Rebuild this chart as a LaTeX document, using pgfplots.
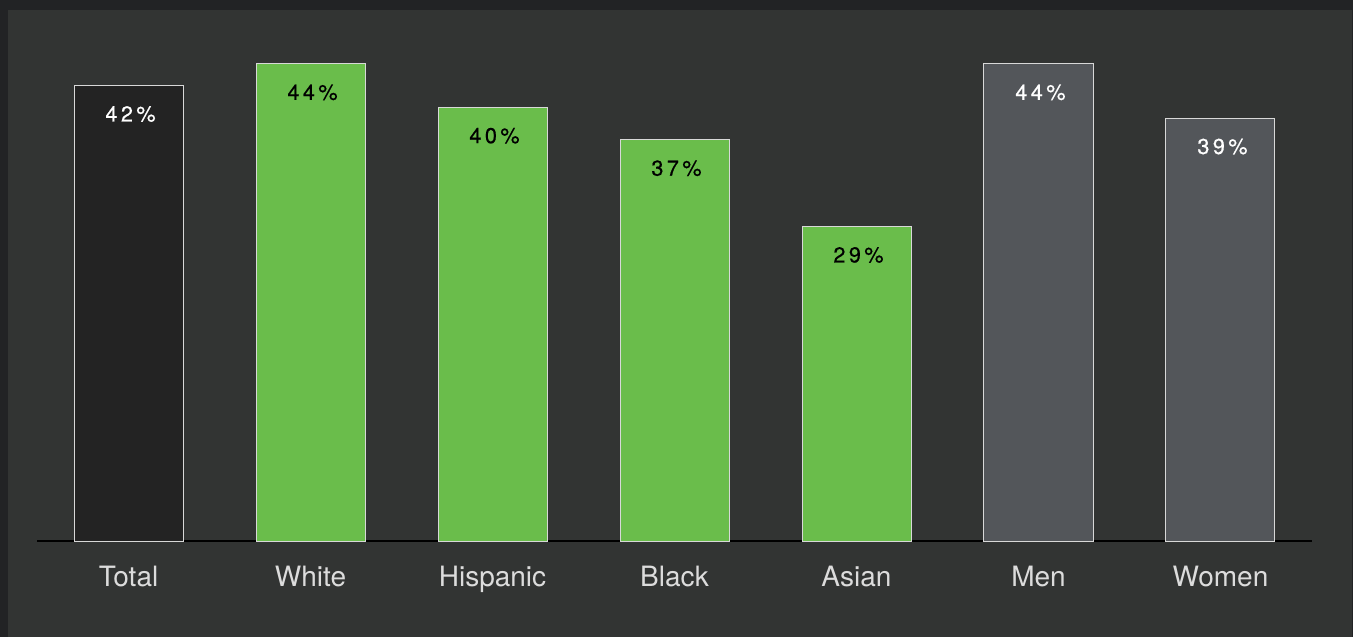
\documentclass[border=0pt]{standalone}
\usepackage{fontspec}
\setmainfont{TeX Gyre Heros}
\newfontfamily\spaced[LetterSpace=16,FakeBold=0.6]{TeX Gyre Heros}
\usepackage{pgfplots}
\pgfplotsset{compat=1.18}
\definecolor{outerbg}{HTML}{222325}
\definecolor{innerbg}{HTML}{323433}
\definecolor{totalfill}{HTML}{232323}
\definecolor{greenfill}{HTML}{6ABD4B}
\definecolor{greyfill}{HTML}{53565A}
\definecolor{outline}{HTML}{D8D8D8}
\definecolor{labeltxt}{HTML}{DCDCDC}
\begin{document}
\begin{tikzpicture}
\fill[outerbg] (0,0) rectangle (676.5pt,318.5pt);
\fill[innerbg] (4pt,0) rectangle (676pt,313.5pt);
\begin{axis}[
  at={(18.5pt,48pt)}, anchor=south west,
  scale only axis, width=637.5pt, height=260.2pt,
  xmin=-0.503, xmax=6.503, ymin=0, ymax=48,
  axis x line=bottom, axis y line=none,
  x axis line style={black, line width=1pt, -},
  xtick={0,1,2,3,4,5,6},
  xticklabels={Total,White,Hispanic,Black,Asian,Men,Women},
  major tick length=0pt,
  xticklabel style={anchor=base, yshift=-22.5pt, font=\fontsize{14}{16}\selectfont, text=labeltxt},
  ybar, bar width=54.5pt, bar shift=0pt,
  clip=false,
  /pgf/number format/assume math mode=true,
  nodes near coords={\pgfmathprintnumber{\pgfplotspointmeta}\%},
  nodes near coords style={anchor=center, yshift=-14.2pt, xshift=1pt, font=\spaced\fontsize{10.8}{13}\selectfont},
]
\addplot[fill=totalfill, draw=outline, line width=0.5pt, nodes near coords style={text=white}] coordinates {(0,42)};
\addplot[fill=greenfill, draw=outline, line width=0.5pt, nodes near coords style={text=black}] coordinates {(1,44) (2,40) (3,37) (4,29)};
\addplot[fill=greyfill, draw=outline, line width=0.5pt, nodes near coords style={text=white}] coordinates {(5,44) (6,39)};
\end{axis}
\end{tikzpicture}
\end{document}
